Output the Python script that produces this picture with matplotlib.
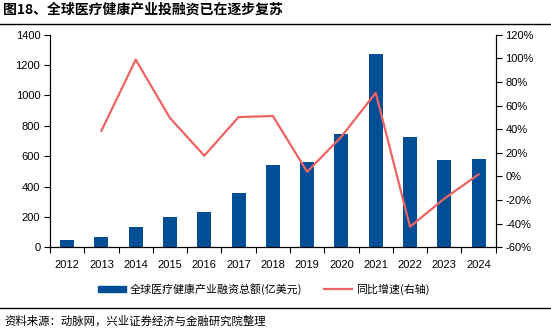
import numpy as np
import matplotlib.pyplot as plt
from matplotlib.lines import Line2D
from matplotlib.patches import Patch

plt.rcParams['font.family'] = ['Liberation Sans', 'Noto Sans CJK SC', 'DejaVu Sans']

years = ['2012', '2013', '2014', '2015', '2016', '2017', '2018',
         '2019', '2020', '2021', '2022', '2023', '2024']
funding = [48, 68, 134, 200, 232, 358, 542, 562, 746, 1273, 726, 575, 581]
growth = [np.nan, 38.7, 98.9, 49.5, 17.6, 50.3, 51.2, 4.0, 33.7, 70.9, -42.6, -18.8, 1.8]

bar_color = '#014e96'
line_color = '#ef6262'

fig = plt.figure(figsize=(5.51, 3.28), dpi=100)
ax = fig.add_axes([0.0907, 0.246, 0.809, 0.648])
x = np.arange(len(years))
ax.bar(x, funding, width=0.41, color=bar_color, zorder=2)
ax.set_xlim(-0.5, len(years) - 0.5)
ax.set_ylim(0, 1400)
ax.set_yticks(range(0, 1401, 200))
ax.set_xticks(x)
ax.set_xticklabels(years)
ax.set_xticks(np.arange(-0.5, len(years), 1), minor=True)
ax.tick_params(axis='x', which='major', length=0, labelsize=8, pad=9)
ax.tick_params(axis='x', which='minor', length=4, width=0.8, direction='out')
ax.tick_params(axis='y', length=4, width=0.8, labelsize=8, pad=3)
ax.spines['top'].set_visible(False)
for s in ['left', 'bottom', 'right']:
    ax.spines[s].set_linewidth(0.8)

ax2 = ax.twinx()
ax2.plot(x, growth, color=line_color, lw=1.6, zorder=3)
ax2.set_ylim(-60, 120)
ax2.set_yticks(range(-60, 121, 20))
ax2.set_yticklabels([f'{v}%' for v in range(-60, 121, 20)])
ax2.tick_params(axis='y', length=4, width=0.8, labelsize=8, pad=3)
ax2.spines['top'].set_visible(False)
ax2.spines['right'].set_linewidth(0.8)

# title and rules
fig.text(0.005, 0.97, '图18、全球医疗健康产业投融资已在逐步复苏', fontsize=10,
         fontweight='bold', va='center', ha='left', family=['Noto Sans CJK SC'])
fig.add_artist(Line2D([0, 1], [0.927, 0.927], color='black', lw=1.0))
fig.add_artist(Line2D([0, 1], [0.061, 0.061], color='black', lw=1.0))
fig.text(0.008, 0.022, '资料来源：动脉网，兴业证券经济与金融研究院整理', fontsize=8.2,
         va='center', ha='left', family=['Noto Sans CJK SC'])

handles = [Patch(color=bar_color), Line2D([], [], color=line_color, lw=1.6)]
fig.legend(handles, ['全球医疗健康产业融资总额(亿美元)', '同比增速(右轴)'],
           loc='center', bbox_to_anchor=(0.478, 0.119), ncol=2, frameon=False,
           handlelength=2.6, handleheight=0.55, columnspacing=2.0,
           handletextpad=0.3, prop={'family': ['Noto Sans CJK SC'], 'size': 7.9})

fig.savefig('out.png', dpi=100)
